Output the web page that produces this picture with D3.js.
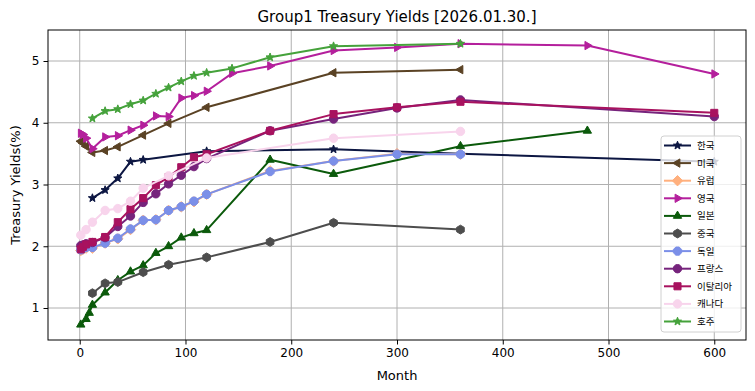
<!DOCTYPE html>
<html>
<head>
<meta charset="utf-8">
<script src="https://cdn.jsdelivr.net/npm/d3@7"></script>
<style>
  body { margin: 0; background: #fff; }
  svg text { font-family: "DejaVu Sans", sans-serif; }
  .legend text { font-family: "Noto Sans CJK KR", sans-serif; }
</style>
</head>
<body>
<div id="chart"></div>
<script>
const W = 755, H = 391;
const margin = { top: 30, right: 9, bottom: 51, left: 48 };

const xTicks = [0, 100, 200, 300, 400, 500, 600];
const yTicks = [1, 2, 3, 4, 5];

// months and yields per country
const krMonths = [12, 24, 36, 48, 60, 120, 240, 360, 600];
const krYields = [2.78, 2.91, 3.10, 3.37, 3.40, 3.54, 3.57, 3.50, 3.37];

const usMonths = [1, 3, 6, 12, 24, 36, 60, 84, 120, 240, 360];
const usYields = [3.70, 3.67, 3.62, 3.52, 3.55, 3.61, 3.80, 3.99, 4.25, 4.81, 4.86];

const euMonths = [1, 3, 6, 12, 24, 36, 48, 60, 72, 84, 96, 108, 120, 180, 240, 300, 360];
const euYields = [1.93, 1.95, 1.97, 1.97, 2.05, 2.12, 2.27, 2.42, 2.43, 2.58, 2.64, 2.72, 2.84, 3.22, 3.38, 3.50, 3.49];

const ukMonths = [1, 3, 6, 12, 24, 36, 48, 60, 72, 84, 96, 108, 120, 144, 180, 240, 300, 360, 480, 600];
const ukYields = [3.83, 3.81, 3.75, 3.58, 3.77, 3.79, 3.88, 3.96, 4.11, 4.10, 4.40, 4.44, 4.51, 4.80, 4.92, 5.17, 5.22, 5.28, 5.25, 4.79];

const jpMonths = [1, 6, 9, 12, 24, 36, 48, 60, 72, 84, 96, 108, 120, 180, 240, 360, 480];
const jpYields = [0.73, 0.82, 0.92, 1.05, 1.25, 1.45, 1.59, 1.69, 1.89, 2.00, 2.14, 2.21, 2.26, 3.40, 3.17, 3.62, 3.87];

const cnMonths = [12, 24, 36, 60, 84, 120, 180, 240, 360];
const cnYields = [1.24, 1.40, 1.42, 1.58, 1.70, 1.82, 2.07, 2.38, 2.27];

const deMonths = [1, 3, 6, 12, 24, 36, 48, 60, 72, 84, 96, 108, 120, 180, 240, 300, 360];
const deYields = [1.94, 1.96, 1.98, 1.98, 2.05, 2.13, 2.28, 2.42, 2.43, 2.58, 2.64, 2.73, 2.84, 3.21, 3.38, 3.49, 3.49];

const frMonths = [1, 3, 6, 12, 24, 36, 48, 60, 72, 84, 96, 108, 120, 180, 240, 300, 360, 600];
const frYields = [2.01, 2.02, 2.04, 2.06, 2.14, 2.32, 2.49, 2.71, 2.85, 3.01, 3.15, 3.29, 3.42, 3.87, 4.06, 4.24, 4.37, 4.10];

const itMonths = [1, 3, 6, 12, 24, 36, 48, 60, 72, 84, 96, 108, 120, 180, 240, 300, 360, 600];
const itYields = [1.95, 1.99, 2.03, 2.07, 2.15, 2.39, 2.60, 2.78, 2.99, 3.12, 3.28, 3.44, 3.49, 3.87, 4.14, 4.25, 4.34, 4.16];

const caMonths = [1, 6, 12, 24, 36, 48, 60, 84, 120, 240, 360];
const caYields = [2.18, 2.27, 2.39, 2.58, 2.61, 2.73, 2.94, 3.14, 3.43, 3.75, 3.86];

const auMonths = [12, 24, 36, 48, 60, 72, 84, 96, 108, 120, 144, 180, 240, 360];
const auYields = [4.07, 4.19, 4.22, 4.30, 4.36, 4.47, 4.57, 4.67, 4.76, 4.81, 4.88, 5.06, 5.24, 5.28];

const series = [
  { name: "한국", color: "#0c1642", marker: "star", months: krMonths, yields: krYields },
  { name: "미국", color: "#5a4224", marker: "triLeft", months: usMonths, yields: usYields },
  { name: "유럽", color: "#ffb07e", marker: "diamond", months: euMonths, yields: euYields },
  { name: "영국", color: "#b41f9c", marker: "triRight", months: ukMonths, yields: ukYields },
  { name: "일본", color: "#0b5a0b", marker: "triUp", months: jpMonths, yields: jpYields },
  { name: "중국", color: "#4d4d4d", marker: "hexagon", months: cnMonths, yields: cnYields },
  { name: "독일", color: "#7b8fe8", marker: "octagon", months: deMonths, yields: deYields },
  { name: "프랑스", color: "#76237c", marker: "circle", months: frMonths, yields: frYields },
  { name: "이탈리아", color: "#a8125f", marker: "square", months: itMonths, yields: itYields },
  { name: "캐나다", color: "#f8d4ec", marker: "circle", months: caMonths, yields: caYields },
  { name: "호주", color: "#45a23b", marker: "star", months: auMonths, yields: auYields }
];

const x = d3.scaleLinear().domain([-30, 630]).range([margin.left, W - margin.right]);
const y = d3.scaleLinear().domain([0.482, 5.502]).range([H - margin.bottom, margin.top]);

const svg = d3.select("#chart").append("svg")
  .attr("width", W).attr("height", H);

// polygon helper
function poly(n, r, rot, inner) {
  const pts = [];
  const k = inner ? n * 2 : n;
  for (let i = 0; i < k; i++) {
    const a = rot + i * 2 * Math.PI / k;
    const rr = inner && i % 2 ? inner : r;
    pts.push([rr * Math.sin(a), -rr * Math.cos(a)]);
  }
  return "M" + pts.map(p => p[0].toFixed(2) + "," + p[1].toFixed(2)).join("L") + "Z";
}

function markerPath(type) {
  switch (type) {
    case "star": return poly(5, 4.3, 0, 1.8);
    case "triLeft": return poly(3, 4.8, -Math.PI / 2);
    case "triRight": return poly(3, 4.8, Math.PI / 2);
    case "triUp": return poly(3, 4.8, 0);
    case "diamond": return poly(4, 5.2, 0);
    case "hexagon": return poly(6, 4.4, 0);
    case "octagon": return poly(8, 4.4, Math.PI / 8);
    case "square": return poly(4, 5, Math.PI / 4);
    default: return d3.symbol(d3.symbolCircle, Math.PI * 4.2 * 4.2)();
  }
}

// grid
svg.append("g").selectAll("line").data(xTicks).enter().append("line")
  .attr("x1", d => x(d)).attr("x2", d => x(d))
  .attr("y1", margin.top).attr("y2", H - margin.bottom)
  .attr("stroke", "#b0b0b0").attr("stroke-width", 1);
svg.append("g").selectAll("line").data(yTicks).enter().append("line")
  .attr("y1", d => y(d)).attr("y2", d => y(d))
  .attr("x1", margin.left).attr("x2", W - margin.right)
  .attr("stroke", "#b0b0b0").attr("stroke-width", 1);

// lines + markers
svg.append("clipPath").attr("id", "clip").append("rect")
  .attr("x", margin.left).attr("y", margin.top)
  .attr("width", W - margin.left - margin.right)
  .attr("height", H - margin.top - margin.bottom);

const line = d3.line().x(d => x(d[0])).y(d => y(d[1]));

series.forEach(function (s) {
  const pts = s.months.map((m, i) => [m, s.yields[i]]);
  const g = svg.append("g").attr("clip-path", "url(#clip)");
  g.append("path")
    .attr("d", line(pts))
    .attr("fill", "none")
    .attr("stroke", s.color)
    .attr("stroke-width", 2)
    .attr("stroke-linejoin", "round");
  g.selectAll(".m").data(pts).enter().append("path")
    .attr("d", markerPath(s.marker))
    .attr("transform", d => "translate(" + x(d[0]) + "," + y(d[1]) + ")")
    .attr("fill", s.color)
    .attr("stroke", s.color)
    .attr("stroke-width", 1);
});

// axes
const xAxis = svg.append("g")
  .attr("transform", "translate(0," + (H - margin.bottom) + ")")
  .call(d3.axisBottom(x).tickValues(xTicks).tickFormat(d3.format("d"))
    .tickSize(4.5).tickPadding(4).tickSizeOuter(0));
const yAxis = svg.append("g")
  .attr("transform", "translate(" + margin.left + ",0)")
  .call(d3.axisLeft(y).tickValues(yTicks).tickFormat(d3.format("d"))
    .tickSize(4.5).tickPadding(4).tickSizeOuter(0));
[xAxis, yAxis].forEach(function (a) {
  a.select(".domain").remove();
  a.selectAll("text").attr("font-family", "DejaVu Sans").attr("font-size", 12).attr("fill", "#000");
  a.selectAll("line").attr("stroke", "#000");
});

// frame
svg.append("rect")
  .attr("x", margin.left).attr("y", margin.top)
  .attr("width", W - margin.left - margin.right)
  .attr("height", H - margin.top - margin.bottom)
  .attr("fill", "none").attr("stroke", "#000").attr("stroke-width", 1);

// titles
svg.append("text")
  .attr("x", (margin.left + W - margin.right) / 2).attr("y", 22)
  .attr("text-anchor", "middle").attr("font-size", 15)
  .text("Group1 Treasury Yields [2026.01.30.]");
svg.append("text")
  .attr("x", (margin.left + W - margin.right) / 2).attr("y", 380)
  .attr("text-anchor", "middle").attr("font-size", 13)
  .text("Month");
svg.append("text")
  .attr("transform", "translate(20," + ((margin.top + H - margin.bottom) / 2) + ") rotate(-90)")
  .attr("text-anchor", "middle").attr("font-size", 13)
  .text("Treasury Yields(%)");

// legend
const lg = svg.append("g").attr("class", "legend").attr("transform", "translate(661,136)");
lg.append("rect")
  .attr("width", 80).attr("height", 196).attr("rx", 3)
  .attr("fill", "#fff").attr("fill-opacity", 0.8)
  .attr("stroke", "#d0d0d0").attr("stroke-width", 1);
series.forEach(function (s, i) {
  const row = lg.append("g").attr("transform", "translate(0," + (9.5 + i * 17.6) + ")");
  row.append("line").attr("x1", 3).attr("x2", 30)
    .attr("stroke", s.color).attr("stroke-width", 2);
  row.append("path").attr("d", markerPath(s.marker))
    .attr("transform", "translate(16.5,0)")
    .attr("fill", s.color).attr("stroke", s.color).attr("stroke-width", 1);
  row.append("text").attr("x", 36).attr("y", 3.5)
    .attr("font-size", 9.5).attr("fill", "#000")
    .text(s.name);
});
</script>
</body>
</html>
